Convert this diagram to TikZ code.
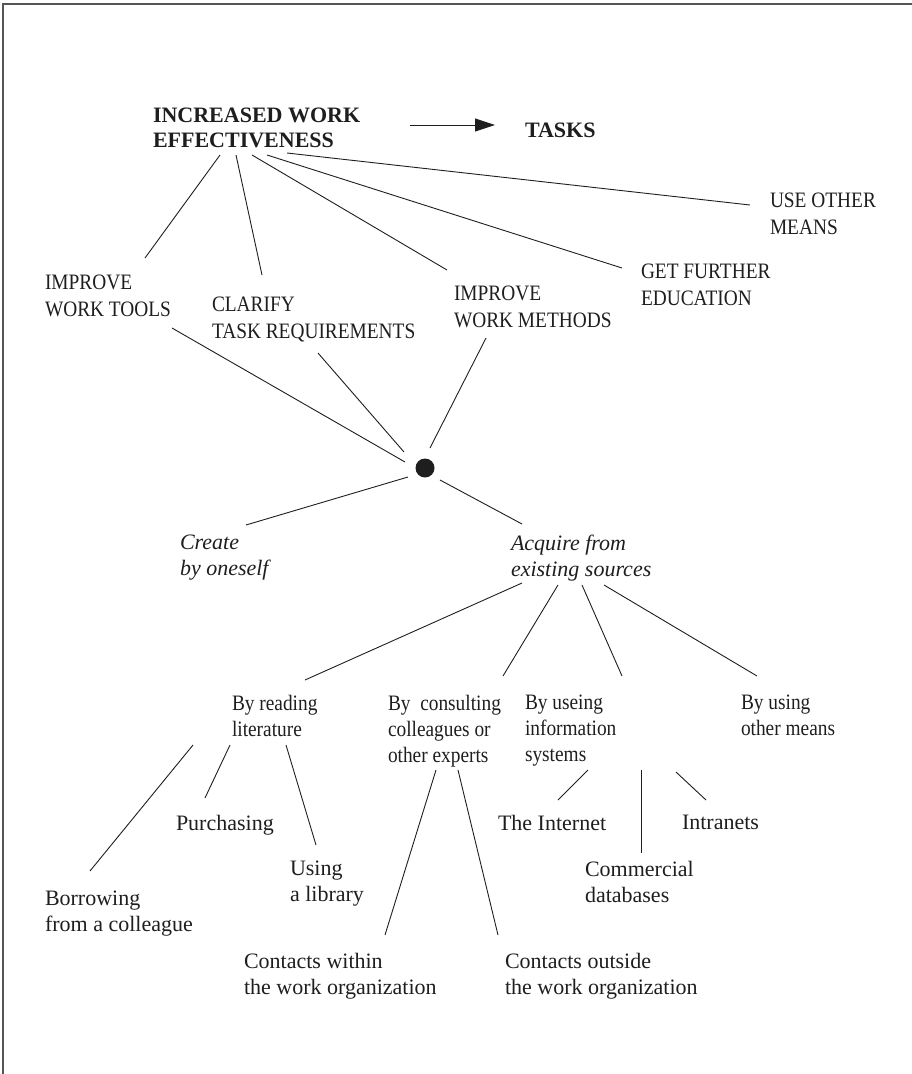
\documentclass[tikz,border=0pt]{standalone}
\usepackage{fontspec}
\setmainfont{Liberation Serif}
\newfontfamily\condfont[FakeStretch=0.88]{Liberation Serif}
\usetikzlibrary{arrows.meta}
\definecolor{ink}{HTML}{1E1E1E}
\definecolor{rule}{HTML}{555555}
\begin{document}
\begin{tikzpicture}[x=1pt,y=-1pt,
  txt/.style={anchor=north west, inner sep=0pt, outer sep=0pt, align=left, text=ink},
  head/.style={txt, font=\bfseries\fontsize{22}{25}\selectfont},
  caps/.style={txt, font=\condfont\fontsize{22}{27}\selectfont},
  branch/.style={txt, font=\condfont\fontsize{22}{26}\selectfont},
  leaf/.style={txt, font=\fontsize{22}{26}\selectfont},
  way/.style={txt, font=\itshape\fontsize{22}{26}\selectfont},
  link/.style={draw=ink, line width=0.9pt},
  hub/.style={circle, fill=ink, inner sep=0pt, minimum size=19pt}]
\useasboundingbox (0,0) rectangle (912,1074);
% frame along the top and left edges
\draw[rule, line width=1.5pt] (912,4) -- (3,4) -- (3,1074);

% goal and its target
\node[head] (goal) at (153,108) {INCREASED WORK\\EFFECTIVENESS};
\node[head] (tasks) at (525,123) {TASKS};
\draw[link, -{Triangle[length=20pt,width=13pt]}]
  ([shift={(257,17)}]goal.north west) -- ([shift={(-30,2)}]tasks.north west);

% first level of means
\node[caps] (tools)    at (45,275)  {IMPROVE\\WORK TOOLS};
\node[caps] (clarify)  at (212,297) {CLARIFY\\TASK REQUIREMENTS};
\node[caps] (methods)  at (454,286) {IMPROVE\\WORK METHODS};
\node[caps] (further)  at (641,264) {GET FURTHER\\EDUCATION};
\node[caps] (useother) at (770,193) {USE OTHER\\MEANS};

\draw[link] ([shift={(67,47)}]goal.north west)  -- ([shift={(100,-17)}]tools.north west);
\draw[link] ([shift={(83,47)}]goal.north west)  -- ([shift={(50,-22)}]clarify.north west);
\draw[link] ([shift={(99,47)}]goal.north west)  -- ([shift={(-7,-16)}]methods.north west);
\draw[link] ([shift={(114,47)}]goal.north west) -- ([shift={(-19,4)}]further.north west);
\draw[link] ([shift={(134,45)}]goal.north west) -- ([shift={(-20,12)}]useother.north west);

% junction
\node[hub] (dot) at (425,468) {};
\draw[link] ([shift={(127,53)}]tools.north west)   -- ([shift={(-20,-6)}]dot.center);
\draw[link] ([shift={(106,56)}]clarify.north west) -- ([shift={(-21,-16)}]dot.center);
\draw[link] ([shift={(32,52)}]methods.north west)  -- ([shift={(5,-20)}]dot.center);

% ways of obtaining
\node[way] (create)  at (180,535) {Create\\by oneself};
\node[way] (acquire) at (511,535) {Acquire from\\existing sources};
\draw[link] ([shift={(-17,9)}]dot.center)  -- ([shift={(66,-10)}]create.north west);
\draw[link] ([shift={(15,12)}]dot.center)  -- ([shift={(11,-11)}]acquire.north west);

% sources
\node[branch] (reading)    at (232,695) {By reading\\literature};
\node[branch] (consult)    at (388,695) {By~\ consulting\\colleagues or\\other experts};
\node[branch] (infosys)    at (525,695) {By useing\\information\\systems};
\node[branch] (othermeans) at (741,695) {By using\\other means};
\draw[link] ([shift={(11,48)}]acquire.north west) -- ([shift={(73,-15)}]reading.north west);
\draw[link] ([shift={(47,50)}]acquire.north west) -- ([shift={(115,-19)}]consult.north west);
\draw[link] ([shift={(71,50)}]acquire.north west) -- ([shift={(97,-19)}]infosys.north west);
\draw[link] ([shift={(93,50)}]acquire.north west) -- ([shift={(16,-19)}]othermeans.north west);

% literature
\node[leaf] (purchasing) at (176,815) {Purchasing};
\node[leaf] (library)    at (290,861) {Using\\a library};
\node[leaf] (borrowing)  at (45,891)  {Borrowing\\from a colleague};
\draw[link] ([shift={(-39,50)}]reading.north west) -- ([shift={(45,-20)}]borrowing.north west);
\draw[link] ([shift={(-2,50)}]reading.north west)  -- ([shift={(29,-17)}]purchasing.north west);
\draw[link] ([shift={(54,50)}]reading.north west)  -- ([shift={(26,-16)}]library.north west);

% colleagues and experts
\node[leaf] (within)  at (244,953) {Contacts within\\the work organization};
\node[leaf] (outside) at (505,953) {Contacts outside\\the work organization};
\draw[link] ([shift={(48,75)}]consult.north west) -- ([shift={(141,-18)}]within.north west);
\draw[link] ([shift={(70,75)}]consult.north west) -- ([shift={(-7,-18)}]outside.north west);

% information systems
\node[leaf] (internet)   at (498,815) {The Internet};
\node[leaf] (intranets)  at (682,815) {Intranets};
\node[leaf] (commercial) at (585,861) {Commercial\\databases};
\draw[link] ([shift={(63,75)}]infosys.north west)  -- ([shift={(60,-15)}]internet.north west);
\draw[link] ([shift={(116,75)}]infosys.north west) -- ([shift={(56,-8)}]commercial.north west);
\draw[link] ([shift={(151,77)}]infosys.north west) -- ([shift={(24,-15)}]intranets.north west);
\end{tikzpicture}
\end{document}
